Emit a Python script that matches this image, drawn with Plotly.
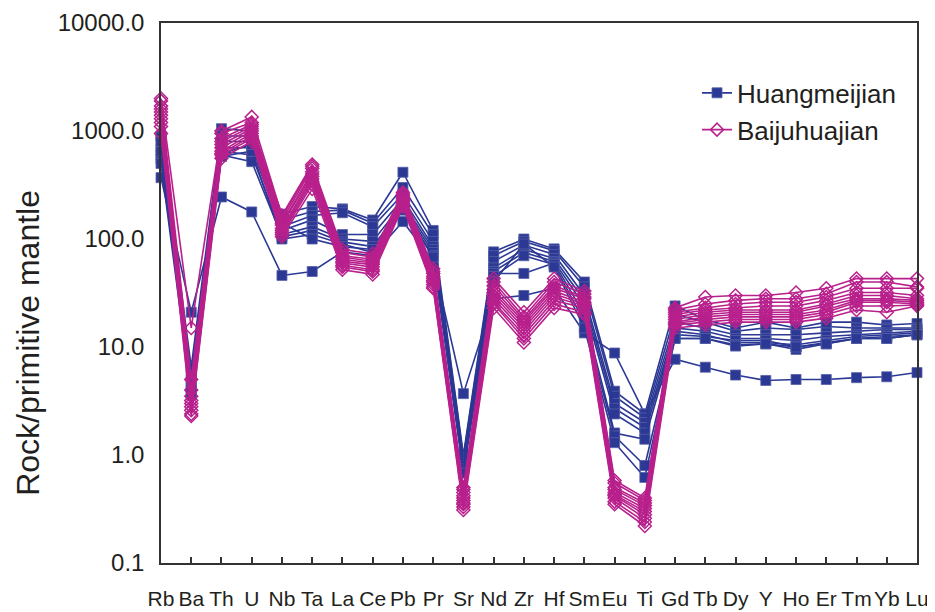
import plotly.graph_objects as go

elements = ["Rb", "Ba", "Th", "U", "Nb", "Ta", "La", "Ce", "Pb", "Pr", "Sr", "Nd", "Zr",
            "Hf", "Sm", "Eu", "Ti", "Gd", "Tb", "Dy", "Y", "Ho", "Er", "Tm", "Yb", "Lu"]

# Huangmeijian samples (normalised to primitive mantle)
hmj_1 = [370, 21, 245, 178, 46, 50, 76, 70, 145, 62, 3.7, 28, 30, 35, 13.5, 8.8, 2.4, 7.7, 6.5, 5.5, 4.9, 5.0, 5.0, 5.2, 5.3, 5.8]
hmj_2 = [900, 6.5, 1050, 1000, 170, 200, 190, 150, 415, 120, 1.0, 76, 100, 81, 40, 3.9, 2.4, 24, 18, 15, 17, 15, 17, 17, 16, 16.5]
hmj_3 = [880, 5.5, 900, 900, 150, 180, 185, 140, 300, 110, 0.95, 70, 95, 78, 36, 3.5, 2.2, 20, 17, 14, 15, 14.5, 15.5, 15, 15, 15]
hmj_4 = [700, 5.0, 800, 800, 130, 165, 175, 130, 260, 95, 0.9, 62, 88, 72, 30, 3.0, 2.0, 17, 15, 13, 13, 13, 13.5, 14, 14.5, 14.5]
hmj_5 = [600, 4.5, 700, 700, 120, 150, 110, 110, 235, 85, 0.85, 54, 80, 66, 27, 2.7, 1.8, 15, 14, 12, 12, 11.5, 12.5, 13, 13.5, 14]
hmj_6 = [550, 4.0, 650, 600, 110, 130, 100, 95, 215, 80, 0.8, 50, 75, 62, 24, 2.4, 1.6, 14, 13, 11, 11, 10.5, 11.5, 12.5, 13, 13.5]
hmj_7 = [500, 3.6, 600, 520, 105, 120, 94, 85, 200, 75, 0.75, 48, 48, 60, 20, 1.6, 1.4, 13, 12.5, 11.5, 11.5, 10, 11, 12, 12.5, 13]
hmj_8 = [650, 3.8, 580, 650, 100, 110, 90, 75, 190, 70, 0.72, 45, 70, 58, 17, 1.5, 0.8, 12, 12, 10.5, 10.7, 9.5, 10.7, 12, 12, 13]
hmj_9 = [800, 4.2, 620, 750, 140, 100, 85, 80, 185, 68, 0.68, 40, 90, 55, 15, 1.3, 0.62, 12, 12, 10.2, 10.7, 10, 10.7, 12, 12, 13]

# Baijuhuajian samples (normalised to primitive mantle)
bjh_1 = [2000, 15, 1000, 1350, 165, 490, 80, 73, 270, 53, 0.50, 43, 21, 43, 33, 0.58, 0.40, 23, 29, 30, 30, 32, 35, 43, 43, 43]
bjh_2 = [1900, 5.0, 950, 1200, 160, 470, 75, 68, 260, 50, 0.48, 40, 19, 40, 31, 0.55, 0.38, 22, 25, 27, 28, 28, 31, 40, 40, 36]
bjh_3 = [1700, 4.0, 850, 1150, 150, 450, 70, 65, 250, 48, 0.45, 37, 18, 37, 29, 0.50, 0.36, 21, 23, 25, 26, 26, 29, 35, 35, 35]
bjh_4 = [1600, 3.5, 800, 1100, 140, 420, 68, 62, 240, 45, 0.42, 34, 17, 35, 28, 0.48, 0.34, 20, 22, 23, 24, 24, 27, 32, 32, 30]
bjh_5 = [1500, 3.2, 750, 1050, 135, 400, 65, 60, 230, 43, 0.40, 32, 16, 33, 26, 0.45, 0.32, 19, 21, 22, 22, 22, 25, 30, 30, 28]
bjh_6 = [1400, 3.0, 700, 1000, 125, 380, 62, 58, 225, 41, 0.38, 30, 15, 31, 25, 0.43, 0.30, 18, 20, 21, 21, 21, 24, 28, 28, 27]
bjh_7 = [1300, 2.8, 650, 950, 120, 360, 60, 55, 220, 40, 0.36, 28, 14, 29, 24, 0.42, 0.28, 17, 19, 20, 20, 20, 22, 27, 27, 26]
bjh_8 = [1200, 2.6, 620, 900, 115, 340, 57, 52, 210, 38, 0.35, 26, 13, 27, 23, 0.40, 0.26, 16.5, 18, 19, 19, 19, 21, 26, 26, 25]
bjh_9 = [1100, 2.4, 600, 850, 110, 320, 55, 50, 205, 36, 0.33, 25, 12, 25, 21, 0.37, 0.24, 16, 17, 18, 18, 18, 20, 24, 24, 24.5]
bjh_10 = [950, 2.3, 560, 800, 105, 290, 52, 47, 200, 35, 0.31, 23, 11, 23, 20, 0.35, 0.22, 15, 16, 17, 17, 17, 18.5, 22, 21, 24]

huangmeijian = [hmj_1, hmj_2, hmj_3, hmj_4, hmj_5, hmj_6, hmj_7, hmj_8, hmj_9]
baijuhuajian = [bjh_1, bjh_2, bjh_3, bjh_4, bjh_5, bjh_6, bjh_7, bjh_8, bjh_9, bjh_10]

y_tickvals = [0.1, 1, 10, 100, 1000, 10000]
y_ticktext = ["0.1", "1.0", "10.0", "100.0", "1000.0", "10000.0"]
y_title = "Rock/primitive mantle"

BLUE = "#2B3894"
MAGENTA = "#B8208C"

fig = go.Figure()
for i, s in enumerate(huangmeijian):
    fig.add_trace(go.Scatter(
        x=elements, y=s, mode="lines+markers", name="Huangmeijian",
        legendgroup="hmj", showlegend=(i == 0), cliponaxis=False,
        line=dict(color=BLUE, width=1.6),
        marker=dict(symbol="square", size=10, color=BLUE,
                    line=dict(color="#5560A8", width=0.8)),
    ))
for i, s in enumerate(baijuhuajian):
    fig.add_trace(go.Scatter(
        x=elements, y=s, mode="lines+markers", name="Baijuhuajian",
        legendgroup="bjh", showlegend=(i == 0), cliponaxis=False,
        line=dict(color=MAGENTA, width=1.6),
        marker=dict(symbol="diamond-open", size=10, color=MAGENTA,
                    line=dict(color=MAGENTA, width=1.5)),
    ))

# the page body adds an 8px offset, so the figure is 8px smaller than the window
fig.update_layout(
    width=927, height=604,
    margin=dict(l=153, r=18, t=15, b=49, autoexpand=False),
    paper_bgcolor="white", plot_bgcolor="white",
    font=dict(family="Liberation Sans, Arial, sans-serif", color="#231F20"),
    showlegend=True,
    legend=dict(x=0.709, y=0.914, xanchor="left", yanchor="top",
                bgcolor="rgba(0,0,0,0)", font=dict(size=26),
                itemwidth=30, tracegroupgap=0),
    annotations=[dict(
        text=y_title, textangle=-90, xref="paper", yref="paper",
        x=-0.177, y=0.408, xanchor="center", yanchor="middle",
        showarrow=False, font=dict(size=32, color="#231F20"),
    )],
)
fig.update_xaxes(
    type="category", range=[0, len(elements) - 1], automargin=False,
    showline=True, linecolor="#333333", linewidth=1.5, mirror=True,
    ticks="inside", ticklen=6, tickwidth=1.5, tickcolor="#333333",
    tickangle=0,
    tickfont=dict(size=21, family="Liberation Sans Narrow, Liberation Sans, Arial"),
    ticklabelstandoff=16, showgrid=False, zeroline=False,
)
fig.update_yaxes(
    type="log", range=[-1, 4], automargin=False,
    tickvals=y_tickvals, ticktext=y_ticktext, ticklabeloverflow="allow",
    showline=True, linecolor="#333333", linewidth=1.5, mirror=True,
    ticks="", tickfont=dict(size=24), ticklabelstandoff=10,
    showgrid=False, zeroline=False,
)

fig.write_html("out.html")
